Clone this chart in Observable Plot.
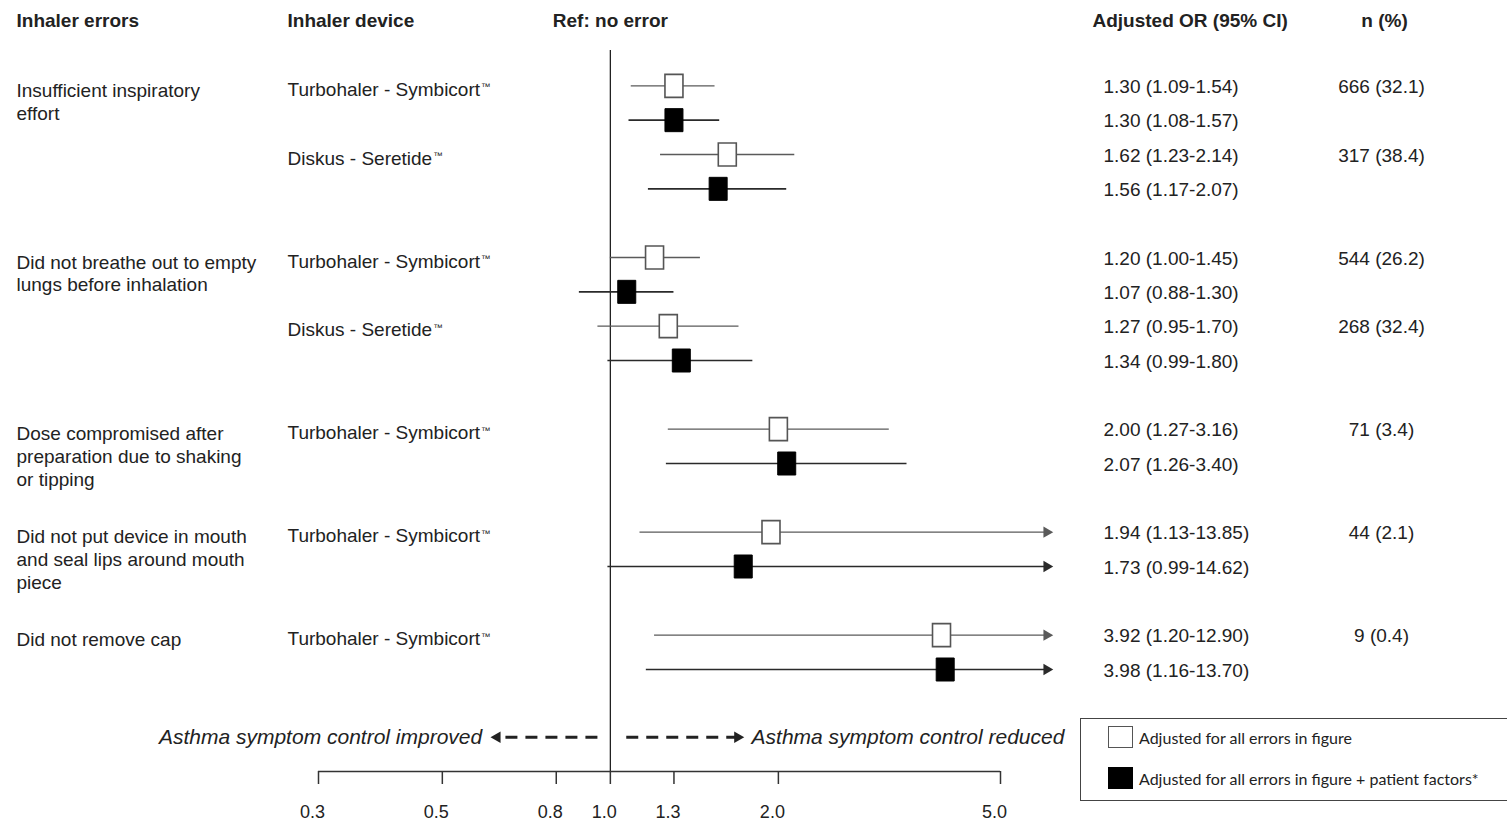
<!DOCTYPE html>
<html>
<head>
<meta charset="utf-8">
<script src="https://cdn.jsdelivr.net/npm/d3@7"></script>
<script src="https://cdn.jsdelivr.net/npm/@observablehq/plot@0.6"></script>
<style>
  body { margin: 0; background: #fff; }
  #wrap { position: relative; width: 1507px; height: 822px; overflow: hidden; }
  #legend { position: absolute; left: 1080px; top: 718px; width: 440px; height: 83px;
            border: 1.5px solid #444; box-sizing: border-box; font-family: Lato, "Open Sans", sans-serif;
            font-size: 16px; color: #222; }
  .item { position: absolute; left: 27px; display: flex; align-items: center; }
  .sw { width: 25px; height: 22px; box-sizing: border-box; margin-right: 6px; }
</style>
</head>
<body>
<div id="wrap">
  <div id="chart"></div>
  <div id="legend"></div>
</div>
<script>
// ---------- data ----------
const errorLabels = [
  "Insufficient inspiratory\neffort",
  "Did not breathe out to empty\nlungs before inhalation",
  "Dose compromised after\npreparation due to shaking\nor tipping",
  "Did not put device in mouth\nand seal lips around mouth\npiece",
  "Did not remove cap"
];
const deviceLabels = ["Turbohaler - Symbicort™", "Diskus - Seretide™"];
const groupError  = [0, 0, 1, 1, 2, 3, 4];
const groupDevice = [0, 1, 0, 1, 0, 0, 0];
const groupN = ["666 (32.1)", "317 (38.4)", "544 (26.2)", "268 (32.4)", "71 (3.4)", "44 (2.1)", "9 (0.4)"];
// model 0: adjusted for all errors in figure (open)
const orAll = [1.30, 1.62, 1.20, 1.27, 2.00, 1.94, 3.92];
const loAll = [1.09, 1.23, 1.00, 0.95, 1.27, 1.13, 1.20];
const hiAll = [1.54, 2.14, 1.45, 1.70, 3.16, 13.85, 12.90];
// model 1: + patient factors (filled)
const orPat = [1.30, 1.56, 1.07, 1.34, 2.07, 1.73, 3.98];
const loPat = [1.08, 1.17, 0.88, 0.99, 1.26, 0.99, 1.16];
const hiPat = [1.57, 2.07, 1.30, 1.80, 3.40, 14.62, 13.70];
const modelLabels = ["Adjusted for all errors in figure", "Adjusted for all errors in figure + patient factors*"];
const headers = ["Inhaler errors", "Inhaler device", "Ref: no error", "Adjusted OR (95% CI)", "n (%)"];
const xTicks = [0.3, 0.5, 0.8, 1.0, 1.3, 2.0, 5.0];
const ciCap = 6.05;
const directionArrows = [
  {label: "Asthma symptom control improved", from: 0.95, to: 0.627, side: -1},
  {label: "Asthma symptom control reduced",  from: 1.07, to: 1.69,  side: 1}
];

// ---------- derived tables ----------
const key = (g, m) => `g${g}m${m}`;
const rows = [];
groupError.forEach((e, g) => {
  rows.push({g, m: 0, key: key(g, 0), or: orAll[g], lo: loAll[g], hi: hiAll[g]});
  rows.push({g, m: 1, key: key(g, 1), or: orPat[g], lo: loPat[g], hi: hiPat[g]});
});
const yDomain = ["top"];
groupError.forEach((e, g) => {
  if (g > 0 && e !== groupError[g - 1]) yDomain.push(`sp${g}`);
  yDomain.push(key(g, 0), key(g, 1));
});
yDomain.push("spEnd", "annot", "axis");

const groups = groupError.map((e, g) => ({g, key: key(g, 0), device: deviceLabels[groupDevice[g]], n: groupN[g]}));
const errorRows = errorLabels.map((label, e) => ({label, key: key(groupError.indexOf(e), 0)}));
const fmt = v => v.toFixed(2);

const boxSymbol = {
  draw(ctx, size) {
    const r = Math.sqrt(size / Math.PI);
    const w = r * 0.9, h = r * 1.15;
    ctx.moveTo(-w, -h); ctx.lineTo(w, -h); ctx.lineTo(w, h); ctx.lineTo(-w, h); ctx.closePath();
  }
};

const textFill = "#222";
const fs = 19;
const ciStroke = ["#5a5a5a", "#2a2a2a"];
const ciWidth = [1.3, 1.7];

const chart = Plot.plot({
  width: 1507,
  height: 822,
  marginLeft: 318,
  marginRight: 507,
  marginTop: 51,
  marginBottom: 50,
  style: {fontFamily: "'Liberation Sans', Arial, sans-serif", fontSize: fs + "px", color: textFill, background: "transparent"},
  x: {type: "log", domain: [xTicks[0], xTicks[xTicks.length - 1]]},
  y: {type: "point", domain: yDomain, padding: 0, round: false, axis: null},
  marks: [
    // reference line and axis
    Plot.ruleX([1], {stroke: "#222", strokeWidth: 1.3, dy: -1}),
    Plot.ruleY(["axis"], {stroke: "#333", strokeWidth: 1.5, dy: -1}),
    Plot.axisX({ticks: xTicks, tickFormat: () => "", tickSize: 13, stroke: "#333", strokeWidth: 1.5, label: null, dy: -1}),
    Plot.text(xTicks, {x: d => d, text: d => d.toFixed(1), frameAnchor: "bottom", lineAnchor: "middle",
      dy: 40, dx: -6, fontSize: 18, fill: textFill}),
    // CI lines
    ...[0, 1].map(m => Plot.ruleY(rows.filter(d => d.m === m), {
      y: "key", x1: "lo", x2: d => Math.min(d.hi, ciCap),
      stroke: ciStroke[m], strokeWidth: ciWidth[m]
    })),
    // arrowheads for clipped CIs
    ...[0, 1].map(m => Plot.dot(rows.filter(d => d.m === m && d.hi > ciCap), {
      x: () => ciCap, y: "key", symbol: "triangle", rotate: 90, r: 4.2,
      fill: ciStroke[m], stroke: "none"
    })),
    // point estimates
    Plot.dot(rows.filter(d => d.m === 0), {x: "or", y: "key", symbol: boxSymbol, r: 10,
      fill: "white", stroke: "#555", strokeWidth: 1.6}),
    Plot.dot(rows.filter(d => d.m === 1), {x: "or", y: "key", symbol: boxSymbol, r: 10,
      fill: "#000", stroke: "#000", strokeWidth: 1}),
    // direction annotation
    Plot.ruleY(directionArrows, {y: () => "annot", x1: "from", x2: "to", stroke: "#222",
      strokeWidth: 3, strokeDasharray: "12,8", dy: -1}),
    Plot.dot(directionArrows, {x: "to", y: () => "annot", symbol: "triangle",
      rotate: d => d.side * 90, r: 4.3, fill: "#222", stroke: "none", dy: -1}),
    Plot.text(directionArrows.filter(d => d.side < 0), {x: "to", y: () => "annot", text: "label",
      textAnchor: "end", dx: -15, dy: -1, fontSize: 21, fontStyle: "italic", fill: textFill}),
    Plot.text(directionArrows.filter(d => d.side > 0), {x: "to", y: () => "annot", text: "label",
      textAnchor: "start", dx: 14, dy: -1, fontSize: 21, fontStyle: "italic", fill: textFill}),
    // left columns
    Plot.text(errorRows, {y: "key", text: "label", frameAnchor: "left", dx: -302, textAnchor: "start",
      lineAnchor: "top", dy: -5, lineHeight: 1.2, fontSize: fs, fill: textFill}),
    Plot.text(groups, {y: "key", text: "device", frameAnchor: "left", dx: -31, textAnchor: "start",
      dy: 4, fontSize: fs, fill: textFill}),
    // right columns
    Plot.text(rows, {y: "key", text: d => `${fmt(d.or)} (${fmt(d.lo)}-${fmt(d.hi)})`,
      frameAnchor: "right", dx: 103, textAnchor: "start", dy: 1, fontSize: fs, fill: textFill}),
    Plot.text(groups, {y: "key", text: "n", frameAnchor: "right", dx: 381, textAnchor: "middle",
      dy: 1, fontSize: fs, fill: textFill}),
    // headers
    Plot.text([headers[0]], {frameAnchor: "top-left", dx: -302, dy: -31, lineAnchor: "middle", textAnchor: "start",
      fontWeight: "bold", fontSize: fs, fill: textFill}),
    Plot.text([headers[1]], {frameAnchor: "top-left", dx: -31, dy: -31, lineAnchor: "middle", textAnchor: "start",
      fontWeight: "bold", fontSize: fs, fill: textFill}),
    Plot.text([headers[2]], {x: () => 1, frameAnchor: "top", dy: -31, lineAnchor: "middle", textAnchor: "middle",
      fontWeight: "bold", fontSize: fs, fill: textFill}),
    Plot.text([headers[3]], {frameAnchor: "top-right", dx: 92, dy: -31, lineAnchor: "middle", textAnchor: "start",
      fontWeight: "bold", fontSize: fs, fill: textFill}),
    Plot.text([headers[4]], {frameAnchor: "top-right", dx: 384, dy: -31, lineAnchor: "middle", textAnchor: "middle",
      fontWeight: "bold", fontSize: fs, fill: textFill})
  ]
});

// render the trademark sign as a small superscript, as in the original
chart.querySelectorAll("text").forEach(t => {
  if (t.children.length === 0 && t.textContent.endsWith("™")) {
    const base = t.textContent.slice(0, -1);
    t.textContent = base;
    const sup = document.createElementNS("http://www.w3.org/2000/svg", "tspan");
    sup.textContent = "™";
    sup.setAttribute("font-size", "0.5em");
    sup.setAttribute("dy", "-0.6em");
    sup.setAttribute("dx", "1");
    t.appendChild(sup);
  }
});
document.getElementById("chart").appendChild(chart);

// legend
const legend = document.getElementById("legend");
modelLabels.forEach((label, m) => {
  const item = document.createElement("div");
  item.className = "item";
  item.style.top = (m === 0 ? 7 : 48) + "px";
  const sw = document.createElement("div");
  sw.className = "sw";
  sw.style.background = m === 0 ? "#fff" : "#000";
  sw.style.border = m === 0 ? "1.5px solid #555" : "1.5px solid #000";
  const t = document.createElement("span");
  t.textContent = label;
  item.appendChild(sw);
  item.appendChild(t);
  legend.appendChild(item);
});
</script>
</body>
</html>
